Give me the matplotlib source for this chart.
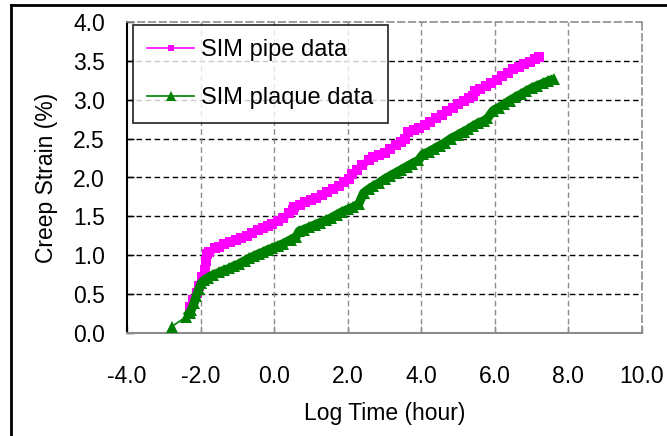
import matplotlib
matplotlib.use("Agg")
import matplotlib.pyplot as plt
from matplotlib.lines import Line2D
from matplotlib.ticker import FormatStrFormatter

plt.rcParams['font.family'] = ['Liberation Sans', 'DejaVu Sans']

pipe_x = [-2.30, -2.20, -2.10, -2.03, -1.95, -1.89, -1.85, -1.83, -1.76, -1.60, -1.49, -1.35,
          -1.20, -1.04, -0.90, -0.75, -0.60, -0.45, -0.30, -0.18, -0.05, 0.10, 0.25, 0.40,
          0.50, 0.55, 0.70, 0.85, 1.00, 1.15, 1.30, 1.45, 1.60, 1.75, 1.90, 2.03, 2.12, 2.25,
          2.40, 2.57, 2.70, 2.85, 3.00, 3.15, 3.30, 3.45, 3.56, 3.65, 3.80, 3.95, 4.10, 4.25,
          4.40, 4.55, 4.70, 4.85, 5.00, 5.15, 5.30, 5.40, 5.45, 5.60, 5.75, 5.90, 6.05, 6.20,
          6.35, 6.50, 6.65, 6.80, 6.95, 7.10, 7.20]
pipe_y = [0.34, 0.42, 0.52, 0.60, 0.72, 0.81, 0.92, 1.01, 1.04, 1.09, 1.11, 1.14,
          1.17, 1.20, 1.22, 1.25, 1.28, 1.32, 1.35, 1.37, 1.40, 1.44, 1.48, 1.54,
          1.58, 1.62, 1.65, 1.68, 1.71, 1.74, 1.78, 1.81, 1.85, 1.89, 1.94, 1.98, 2.05, 2.10,
          2.16, 2.22, 2.26, 2.29, 2.32, 2.37, 2.42, 2.46, 2.50, 2.58, 2.61, 2.64, 2.68, 2.72,
          2.76, 2.80, 2.85, 2.89, 2.94, 2.98, 3.02, 3.05, 3.11, 3.14, 3.18, 3.21, 3.26, 3.31,
          3.35, 3.39, 3.42, 3.46, 3.49, 3.53, 3.55]

plaque_x = [-2.79, -2.39, -2.30, -2.25, -2.18, -2.12, -2.05, -1.98, -1.90, -1.80, -1.65, -1.49,
            -1.35, -1.22, -1.10, -0.95, -0.80, -0.68, -0.55, -0.41, -0.30, -0.18, -0.05, 0.10,
            0.25, 0.45, 0.60, 0.68, 0.80, 0.95, 1.10, 1.25, 1.40, 1.55, 1.70, 1.85, 2.00, 2.15,
            2.30, 2.43, 2.57, 2.70, 2.85, 3.00, 3.15, 3.30, 3.45, 3.60, 3.75, 3.92, 4.05, 4.20,
            4.35, 4.50, 4.65, 4.80, 5.00, 5.15, 5.27, 5.40, 5.55, 5.70, 5.80, 5.95, 6.10, 6.25,
            6.40, 6.55, 6.70, 6.85, 7.00, 7.15, 7.30, 7.45, 7.61]
plaque_y = [0.08, 0.21, 0.26, 0.30, 0.38, 0.47, 0.56, 0.64, 0.68, 0.71, 0.75, 0.78,
            0.81, 0.83, 0.86, 0.89, 0.93, 0.96, 0.99, 1.02, 1.04, 1.07, 1.09, 1.12,
            1.15, 1.20, 1.24, 1.31, 1.33, 1.36, 1.39, 1.42, 1.45, 1.48, 1.52, 1.56, 1.59, 1.62,
            1.66, 1.80, 1.85, 1.89, 1.93, 1.98, 2.02, 2.06, 2.10, 2.14, 2.18, 2.22, 2.30, 2.33,
            2.37, 2.41, 2.45, 2.50, 2.55, 2.59, 2.62, 2.66, 2.70, 2.73, 2.76, 2.86, 2.90, 2.94,
            2.99, 3.03, 3.07, 3.11, 3.15, 3.18, 3.21, 3.24, 3.27]

x_ticks = [-4, -2, 0, 2, 4, 6, 8, 10]
y_ticks = [0.0, 0.5, 1.0, 1.5, 2.0, 2.5, 3.0, 3.5, 4.0]

PINK = '#ff00ff'
GREEN = '#008000'
FS = 16.5

fig = plt.figure(figsize=(6.67, 4.36), dpi=100)
ax = fig.add_axes([127/667, 1 - 333/436, (642 - 127)/667, (333 - 22)/436])

ax.set_xlim(-4, 10)
ax.set_ylim(0, 4)
ax.set_xticks(x_ticks)
ax.set_yticks(y_ticks)
ax.xaxis.set_major_formatter(FormatStrFormatter('%.1f'))
ax.yaxis.set_major_formatter(FormatStrFormatter('%.1f'))

# grid lines
for yv in y_ticks[1:-1]:
    ax.axhline(yv, color='black', lw=1.0, ls=(0, (4, 2.5)), zorder=1)
for xv in x_ticks[1:-1]:
    ax.axvline(xv, color='#8c8c8c', lw=1.0, ls=(0, (4, 2.5)), zorder=1)

# thin connecting line + markers, and the dense-point band on top
ax.plot(pipe_x, pipe_y, color=PINK, lw=1.2, marker='s', markersize=6.5,
        markeredgewidth=0, zorder=3)
ax.plot(pipe_x[1:], pipe_y[1:], color=PINK, lw=5.5, solid_capstyle='butt', zorder=3)
ax.plot(plaque_x, plaque_y, color=GREEN, lw=1.2, marker='^', markersize=8.5,
        markeredgewidth=0, zorder=4)
ax.plot(plaque_x[1:], plaque_y[1:], color=GREEN, lw=6.5, solid_capstyle='butt', zorder=4)

for s in ['top', 'right']:
    ax.spines[s].set_color('#8c8c8c')
    ax.spines[s].set_linestyle((0, (4, 2.5)))
    ax.spines[s].set_linewidth(1.2)
ax.spines['bottom'].set_color('#8c8c8c')
ax.spines['bottom'].set_linewidth(1.5)
ax.spines['left'].set_color('black')
ax.spines['left'].set_linewidth(1.5)

ax.tick_params(axis='x', direction='in', length=5, width=1, color='#8c8c8c',
               labelsize=FS, pad=23)
ax.tick_params(axis='y', direction='in', length=5, width=1, color='black',
               labelsize=FS, pad=16)

ax.set_xlabel('Log Time (hour)', fontsize=FS, labelpad=10)
ax.set_ylabel('Creep Strain (%)', fontsize=FS, labelpad=11)

handles = [Line2D([], [], color=PINK, lw=1.2, marker='s', markersize=4.5, markeredgewidth=0),
           Line2D([], [], color=GREEN, lw=1.2, marker='^', markersize=6.5, markeredgewidth=0)]
leg = ax.legend(handles, ['SIM pipe data', 'SIM plaque data'],
                loc='upper left', bbox_to_anchor=((133 - 127)/515, (333 - 25)/311),
                borderaxespad=0, fontsize=FS + 0.5, frameon=True, fancybox=False,
                handlelength=2.0, handletextpad=0.3, labelspacing=1.1,
                borderpad=0.6)
leg.get_frame().set_edgecolor('black')
leg.get_frame().set_linewidth(1.3)

# figure frame lines (left and top)
fig.add_artist(Line2D([11/667, 11/667], [0, 1 - 5/436], color='black', lw=2,
                      transform=fig.transFigure))
fig.add_artist(Line2D([11/667, 1], [1 - 5/436, 1 - 5/436], color='black', lw=2,
                      transform=fig.transFigure))

fig.savefig('out.png', dpi=100)
